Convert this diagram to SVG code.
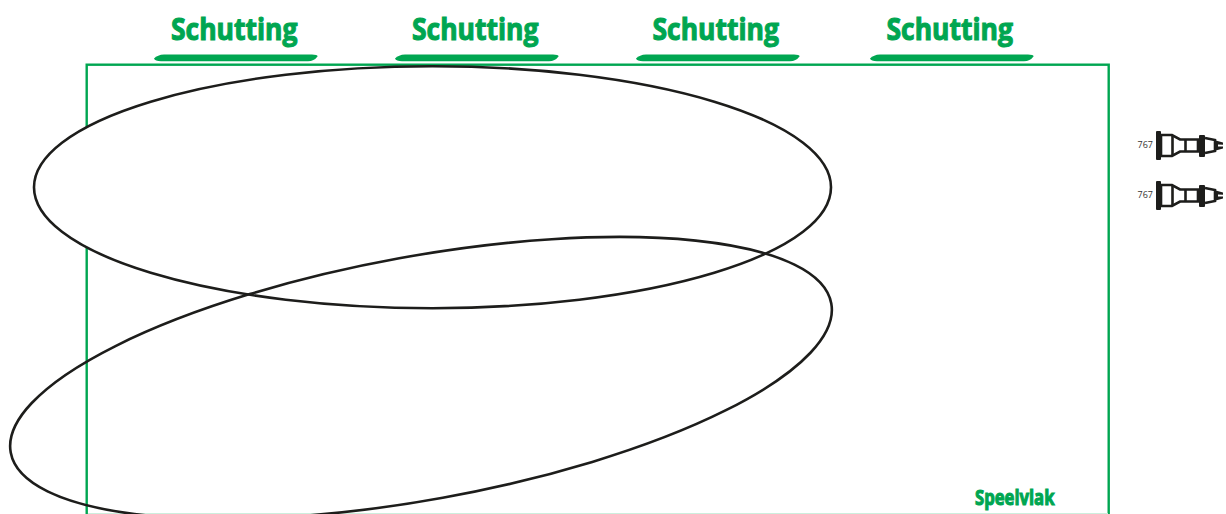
<svg xmlns="http://www.w3.org/2000/svg" width="1226" height="514" viewBox="0 0 1226 514">
<style>
.t{font-family:"Open Sans","Noto Sans",sans-serif;font-weight:700;fill:#00a651;stroke:#00a651;stroke-width:1.100}
.h{font-size:31px}
.e{stroke:#1d1d1b;stroke-width:2.600}
.n{font-family:"Open Sans","Noto Sans",sans-serif;font-size:9px;fill:#333}
.p{fill:none;stroke:#1d1d1b;stroke-width:2.600}
.k{fill:#1d1d1b}
</style>
<defs>
<path id="bar" d="M0 4 Q3.500 0.300 10 0 H158 Q164 0 163.500 2 Q160 6.800 154 6.800 H7 Q1 6.800 0 4Z" fill="#00a651"/>
<g id="plug">
<rect class="k" x="1156" y="-14.500" width="5" height="29" rx="1"/>
<path class="p" d="M1161-10.500H1172L1180-6H1198V6H1180L1172 10.500H1161Z"/>
<path class="p" d="M1172.500-10.500V10.500M1185.500-6V6"/>
<rect class="k" x="1199" y="-10.500" width="6" height="22" rx="1"/>
<path class="p" d="M1205-7.500L1215-5.500V5.500L1205 7.500"/>
<path class="k" d="M1214-5.500L1223-3 1223-0.800 1218-1 1218 1 1223 1 1223 3 1214 5.500Z"/>
</g>
</defs>
<rect id="speelvlak-rect" x="86.700" y="64.700" width="1022" height="460" fill="none" stroke="#00a651" stroke-width="2.400"/>
<rect x="88" y="513" width="1020" height="1" fill="#cdeedd"/>
<g id="schutting-1"><text class="t h" x="171" y="40" textLength="126.500" lengthAdjust="spacingAndGlyphs">Schutting</text><use href="#bar" x="154" y="54.500"/></g>
<g id="schutting-2"><text class="t h" x="412" y="40" textLength="126.500" lengthAdjust="spacingAndGlyphs">Schutting</text><use href="#bar" x="395" y="54.500"/></g>
<g id="schutting-3"><text class="t h" x="652.500" y="40" textLength="126.500" lengthAdjust="spacingAndGlyphs">Schutting</text><use href="#bar" x="636" y="54.500"/></g>
<g id="schutting-4"><text class="t h" x="886.500" y="40" textLength="126.500" lengthAdjust="spacingAndGlyphs">Schutting</text><use href="#bar" x="870" y="54.500"/></g>
<g id="speelvlak"><text class="t" x="975" y="505" font-size="21" textLength="79.500" lengthAdjust="spacingAndGlyphs">Speelvlak</text></g>
<g id="ellipse-1"><ellipse class="e" fill="#fff" cx="432.500" cy="187.200" rx="398.500" ry="121"/></g>
<g id="ellipse-2"><ellipse class="e" fill="none" cx="421" cy="378" rx="417" ry="121.700" transform="rotate(-10.300 421 378)"/></g>
<g id="item-1"><text class="n" x="1137.500" y="148">767</text><use href="#plug" y="145.500"/></g>
<g id="item-2"><text class="n" x="1137.500" y="198">767</text><use href="#plug" y="195.500"/></g>
</svg>
